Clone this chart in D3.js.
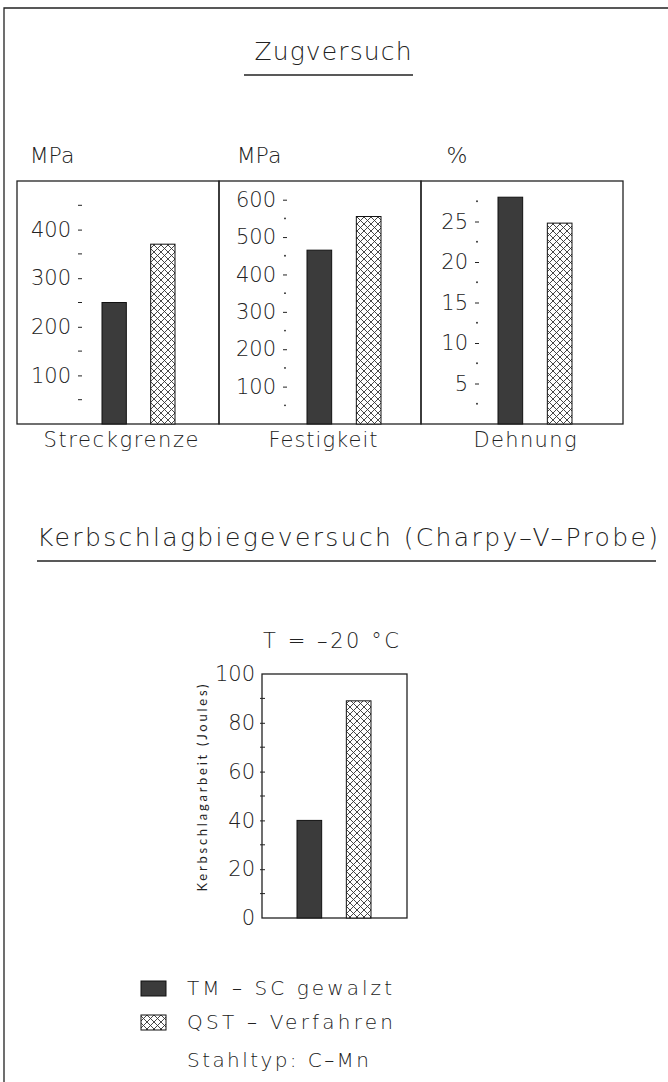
<!DOCTYPE html>
<html>
<head>
<meta charset="utf-8">
<script src="https://cdn.jsdelivr.net/npm/d3@7"></script>
<style>
  body { margin: 0; background: #fff; }
  svg text { font-family: "DejaVu Sans", sans-serif; font-weight: 200; fill: #222; }
</style>
</head>
<body>
<svg id="chart"></svg>
<script>
// --- Zugversuch (three panels) ---
const panels = ["Streckgrenze", "Festigkeit", "Dehnung"]
const units = ["MPa", "MPa", "%"]
const series = ["TM", "QST"]
const tmValues = [250, 465, 28]
const qstValues = [370, 555, 24.8]
const yMax = [500, 650, 30]
const majorTicks = [[100, 200, 300, 400], [100, 200, 300, 400, 500, 600], [5, 10, 15, 20, 25]]
const minorTicks = [[50, 150, 250, 350, 450], [50, 150, 250, 350, 450, 550], [2.5, 7.5, 12.5, 17.5, 22.5, 27.5]]

// --- Kerbschlagbiegeversuch ---
const charpyTemp = "T = –20 °C"
const charpyValues = [40, 89]
const charpyTicks = [0, 20, 40, 60, 80, 100]
const charpyMinor = [10, 30, 50, 70, 90]
const legendLabels = ["TM – SC gewalzt", "QST – Verfahren"]
const steelType = "Stahltyp: C–Mn"

const W = 668, H = 1082
const ink = '#222'
const dark = '#3b3b3b'

const svg = d3.select('#chart').attr('width', W).attr('height', H)

// crosshatch fill
const pat = svg.append('defs').append('pattern')
    .attr('id', 'hatch')
    .attr('patternUnits', 'userSpaceOnUse')
    .attr('width', 7).attr('height', 7)
pat.append('rect').attr('width', 7).attr('height', 7).attr('fill', '#fff')
pat.append('path')
    .attr('d', 'M0,0L7,7M7,0L0,7')
    .attr('stroke', '#333').attr('stroke-width', 0.9)

const fillFor = s => s === 'TM' ? dark : 'url(#hatch)'

// page frame (left + top)
svg.append('path')
    .attr('d', `M4,${H} V8 H${W}`)
    .attr('fill', 'none').attr('stroke', ink).attr('stroke-width', 1.3)

// title 1
svg.append('text')
    .attr('x', 333).attr('y', 60)
    .attr('text-anchor', 'middle')
    .attr('font-size', 25)
    .attr('textLength', 157).attr('lengthAdjust', 'spacing')
    .text('Zugversuch')
svg.append('line')
    .attr('x1', 244).attr('x2', 413).attr('y1', 75).attr('y2', 75)
    .attr('stroke', ink).attr('stroke-width', 1.3)

// panels
const px = d3.scaleBand().domain(panels).range([17, 623])
const barRange = [[102, 175], [307, 381], [498, 572]]
const tickX = [82, 287, 479]
const unitX = [52, 259, 457]
const catWidth = [155, 109, 103]
const top1 = 181, bottom1 = 424

panels.forEach((p, i) => {
    const y = d3.scaleLinear().domain([0, yMax[i]]).range([bottom1, top1])
    const x = d3.scaleBand().domain(series).range(barRange[i]).paddingInner(0.5)
    const g = svg.append('g')

    g.append('rect')
        .attr('x', px(p)).attr('y', top1)
        .attr('width', px.bandwidth()).attr('height', bottom1 - top1)
        .attr('fill', 'none').attr('stroke', ink).attr('stroke-width', 1.3)

    const vals = [tmValues[i], qstValues[i]]
    g.selectAll('.bar').data(series).enter().append('rect')
        .attr('x', d => x(d))
        .attr('y', (d, k) => y(vals[k]))
        .attr('width', x.bandwidth())
        .attr('height', (d, k) => bottom1 - y(vals[k]))
        .attr('fill', d => fillFor(d))
        .attr('stroke', '#111').attr('stroke-width', 1)

    // major ticks with labels
    const ax = g.append('g')
        .attr('transform', 'translate(' + tickX[i] + ',0)')
        .call(d3.axisLeft(y).tickValues(majorTicks[i]).tickSize(4).tickPadding(7))
    ax.select('.domain').remove()
    ax.selectAll('text').attr('font-size', 21).attr('font-family', null).attr('fill', ink)
    ax.selectAll('line').attr('stroke', ink).attr('stroke-width', 1)

    // minor ticks: dashes in first panel, dots otherwise
    if (i === 0) {
        g.selectAll('.minor').data(minorTicks[i]).enter().append('line')
            .attr('x1', tickX[i] - 4).attr('x2', tickX[i])
            .attr('y1', d => y(d)).attr('y2', d => y(d))
            .attr('stroke', ink).attr('stroke-width', 1)
    } else {
        g.selectAll('.minor').data(minorTicks[i]).enter().append('circle')
            .attr('cx', tickX[i] - 2).attr('cy', d => y(d))
            .attr('r', 0.9).attr('fill', ink)
    }

    g.append('text')
        .attr('x', unitX[i]).attr('y', 163)
        .attr('text-anchor', 'middle')
        .attr('font-size', 22)
        .text(units[i])

    g.append('text')
        .attr('x', px(p) + px.bandwidth() / 2 + 3).attr('y', 447)
        .attr('text-anchor', 'middle')
        .attr('font-size', 21)
        .attr('textLength', catWidth[i]).attr('lengthAdjust', 'spacing')
        .text(p)
})

// title 2
svg.append('text')
    .attr('x', 37).attr('y', 546)
    .attr('font-size', 25)
    .attr('textLength', 621).attr('lengthAdjust', 'spacing')
    .text('Kerbschlagbiegeversuch (Charpy–V–Probe)')
svg.append('line')
    .attr('x1', 37).attr('x2', 656).attr('y1', 561).attr('y2', 561)
    .attr('stroke', ink).attr('stroke-width', 1.3)

// charpy chart
const cL = 262, cR = 407, cT = 674, cB = 918
const cy = d3.scaleLinear().domain([0, 100]).range([cB, cT])
const cx = d3.scaleBand().domain(series).range([297, 371]).paddingInner(0.5)

svg.append('text')
    .attr('x', 331).attr('y', 648)
    .attr('text-anchor', 'middle')
    .attr('font-size', 21)
    .attr('textLength', 136).attr('lengthAdjust', 'spacing')
    .text(charpyTemp)

svg.append('rect')
    .attr('x', cL).attr('y', cT)
    .attr('width', cR - cL).attr('height', cB - cT)
    .attr('fill', 'none').attr('stroke', ink).attr('stroke-width', 1.3)

svg.selectAll('.cbar').data(series).enter().append('rect')
    .attr('x', d => cx(d))
    .attr('y', (d, k) => cy(charpyValues[k]))
    .attr('width', cx.bandwidth())
    .attr('height', (d, k) => cB - cy(charpyValues[k]))
    .attr('fill', d => fillFor(d))
    .attr('stroke', '#111').attr('stroke-width', 1)

const cax = svg.append('g')
    .attr('transform', 'translate(' + (cL + 3) + ',0)')
    .call(d3.axisLeft(cy).tickValues(charpyTicks).tickSize(5).tickPadding(5))
cax.select('.domain').remove()
cax.selectAll('text').attr('font-size', 21).attr('font-family', null).attr('fill', ink)
cax.selectAll('line').attr('stroke', ink).attr('stroke-width', 1)
cax.selectAll('.tick').filter(d => d === 0 || d === 100).select('line').remove()

svg.selectAll('.cminor').data(charpyMinor).enter().append('line')
    .attr('x1', cL - 2).attr('x2', cL + 3)
    .attr('y1', d => cy(d)).attr('y2', d => cy(d))
    .attr('stroke', ink).attr('stroke-width', 1)

// rotated y label (small, so a plain regular face reads better here)
svg.append('text')
    .attr('transform', 'translate(207,788) rotate(-90)')
    .attr('text-anchor', 'middle')
    .attr('font-size', 13)
    .style('font-family', 'Lato, sans-serif')
    .style('font-weight', 400)
    .attr('textLength', 207).attr('lengthAdjust', 'spacing')
    .text('Kerbschlagarbeit (Joules)')

// legend
const legY = [981, 1015]
const leg = svg.selectAll('.leg').data(series).enter().append('g')
leg.append('rect')
    .attr('x', 141).attr('y', (d, k) => legY[k])
    .attr('width', 25).attr('height', 15)
    .attr('fill', d => fillFor(d))
    .attr('stroke', '#111').attr('stroke-width', 1)
leg.append('text')
    .attr('x', 187).attr('y', (d, k) => legY[k] + 14)
    .attr('font-size', 20)
    .attr('textLength', (d, k) => k === 0 ? 205 : 206).attr('lengthAdjust', 'spacing')
    .text((d, k) => legendLabels[k])

svg.append('text')
    .attr('x', 187).attr('y', 1067)
    .attr('font-size', 20)
    .attr('textLength', 182).attr('lengthAdjust', 'spacing')
    .text(steelType)
</script>
</body>
</html>
